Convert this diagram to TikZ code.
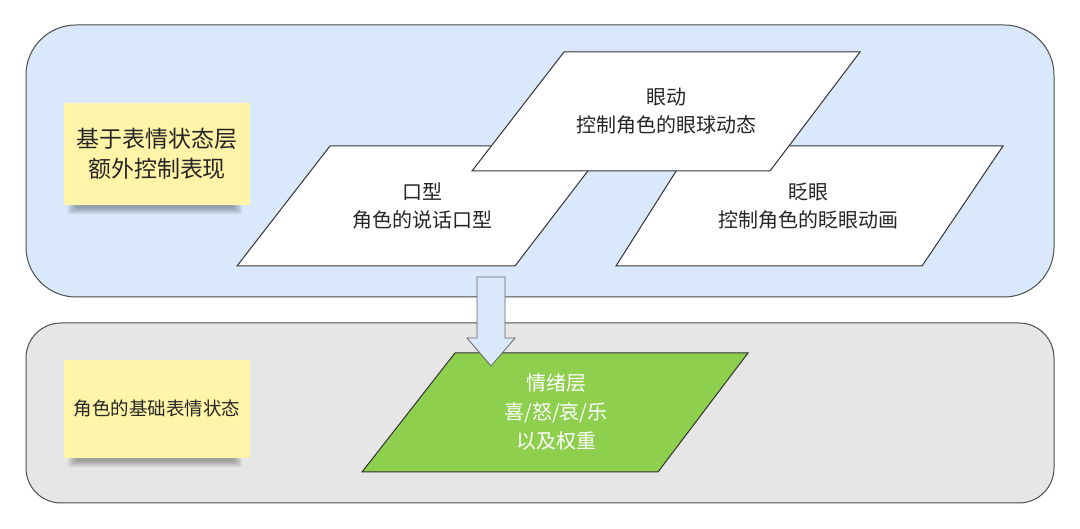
\documentclass[tikz,border=0pt]{standalone}
\usepackage{fontspec}
\setmainfont{Noto Sans CJK SC}
\usepackage{xcolor}
\usetikzlibrary{arrows.meta, positioning, calc}

\definecolor{panelblue}{HTML}{DAE8FC}
\definecolor{panelgrey}{HTML}{E6E6E6}
\definecolor{notey}{HTML}{FFF4A8}
\definecolor{leafgreen}{HTML}{8ECF4E}
\definecolor{edgegrey}{HTML}{4D4D4D}

\begin{document}
\begin{tikzpicture}[x=1pt, y=1pt,
    panel/.style={draw=edgegrey, line width=1pt},
    note/.style={fill=notey, minimum width=186pt, minimum height=102pt, inner sep=0pt,
        align=center, text=black!85},
    para/.style={draw=black!80, line width=1pt, fill=white},
    paratext/.style={align=center, font=\fontsize{20}{28}\selectfont, text=black!85}]
    \useasboundingbox (0,0) rectangle (1080,529);

    % two layers
    \draw[panel, fill=panelblue, rounded corners=50pt] (26,232) rectangle (1054,504);
    \draw[panel, fill=panelgrey, rounded corners=35pt] (26,26) rectangle (1054,206);

    % sticky notes
    \node[note, font=\fontsize{23}{30}\selectfont] (extra) at (157,375) {基于表情状态层\\额外控制表现};
    \node[note, minimum height=98pt, font=\fontsize{18.5}{24}\selectfont] (base) at (157,120) {角色的基础表情状态};
    \foreach \n in {extra, base}
        \foreach \d in {0,1,2,3,4}
            \fill[black, opacity=0.07, rounded corners=2pt]
                ($(\n.south west)+(4+2*\d,-9+1.5*\d)$) rectangle ($(\n.south east)+(-8-2*\d,0)$);

    % control boxes
    \filldraw[para] (330,383) -- (607,383) -- (515,263) -- (237,263) -- cycle;
    \node[paratext] (mouth) at (422,323) {口型\\角色的说话口型};
    \filldraw[para] (692,383) -- (1003,383) -- (922,263) -- (616,263) -- cycle;
    \node[paratext] (blink) at (808,323) {眨眼\\控制角色的眨眼动画};
    \filldraw[para] (564,477) -- (860,477) -- (770,358) -- (472,358) -- cycle;
    \node[paratext] (eyes) at (666,418) {眼动\\控制角色的眼球动态};

    % emotion layer
    \filldraw[para, fill=leafgreen] (455,176) -- (748,176) -- (658,57) -- (362,57) -- cycle;
    \node[paratext, text=white, font=\fontsize{20}{29}\selectfont] (mood) at (556,117) {情绪层\\喜/怒/哀/乐\\以及权重};

    % block arrow
    \coordinate (arrtop) at (491,252);
    \coordinate (arrtip) at (491,163);
    \filldraw[fill=panelblue, draw=black!60, line width=0.8pt]
        ($(arrtop)+(-14,0)$) -- ($(arrtop)+(14,0)$) -- ($(arrtip)+(14,28)$) -- ($(arrtip)+(24,28)$)
        -- (arrtip) -- ($(arrtip)+(-24,28)$) -- ($(arrtip)+(-14,28)$) -- cycle;
\end{tikzpicture}
\end{document}
